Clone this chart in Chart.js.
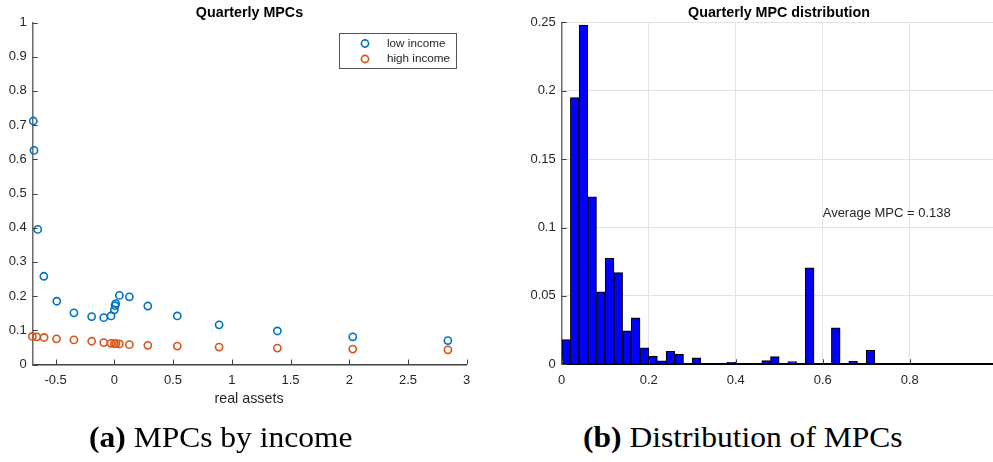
<!DOCTYPE html>
<html>
<head>
<meta charset="utf-8">
<title>Quarterly MPCs</title>
<script src="https://cdn.jsdelivr.net/npm/chart.js@4.4.1/dist/chart.umd.min.js"></script>
<style>
  html, body { margin: 0; padding: 0; background: #fff; width: 993px; height: 462px; overflow: hidden; position: relative; }
  canvas { position: absolute; top: 0; }
  #mpcChart { left: 0; }
  #histChart { left: 520px; }
  .lbl { position: absolute; font-family: "Liberation Sans", Arial, sans-serif; color: #262626; white-space: nowrap; line-height: 1; transform: translateX(-50%); }
  .ttl { font-weight: bold; font-size: 14.3px; color: #000; }
  .axl { font-size: 14.3px; }
  .cap { position: absolute; font-family: "Liberation Serif", "Times New Roman", serif; font-size: 29px; line-height: 1; white-space: nowrap; color: #000; transform-origin: left top; }
</style>
</head>
<body>
<canvas id="mpcChart" width="480" height="400"></canvas>
<canvas id="histChart" width="500" height="400"></canvas>

<div class="lbl ttl" style="left:249.5px; top:5px;">Quarterly MPCs</div>
<div class="lbl ttl" style="left:779px; top:5px;">Quarterly MPC distribution</div>
<div class="lbl axl" style="left:249px; top:391px;">real assets</div>

<div class="cap" id="capA" style="left:89px; top:423px;"><b>(a)</b> MPCs by income</div>
<div class="cap" id="capB" style="left:583px; top:423px;"><b>(b)</b> Distribution of MPCs</div>

<script>
// ---------- data: MPCs by real assets ----------
const LOW_ASSETS  = [-0.69, -0.684, -0.652, -0.60, -0.49, -0.344, -0.193, -0.09, -0.028, 0, 0.006, 0.012, 0.043, 0.128, 0.285, 0.536, 0.892, 1.388, 2.03, 2.84];
const LOW_MPC     = [0.712, 0.626, 0.395, 0.258, 0.185, 0.151, 0.140, 0.137, 0.142, 0.160, 0.172, 0.178, 0.202, 0.198, 0.171, 0.142, 0.116, 0.098, 0.081, 0.070];
const HIGH_ASSETS = [-0.698, -0.661, -0.598, -0.492, -0.344, -0.193, -0.09, -0.028, 0, 0.014, 0.043, 0.128, 0.285, 0.536, 0.892, 1.388, 2.03, 2.84];
const HIGH_MPC    = [0.082, 0.081, 0.079, 0.075, 0.072, 0.068, 0.064, 0.062, 0.061, 0.061, 0.060, 0.058, 0.056, 0.054, 0.051, 0.048, 0.045, 0.043];

const ASSET_TICKS = [-0.5, 0, 0.5, 1, 1.5, 2, 2.5, 3];
const ASSET_TICK_LABELS = ["-0.5", "0", "0.5", "1", "1.5", "2", "2.5", "3"];
const MPC_TICKS = [0, 0.1, 0.2, 0.3, 0.4, 0.5, 0.6, 0.7, 0.8, 0.9, 1];
const MPC_TICK_LABELS = ["0", "0.1", "0.2", "0.3", "0.4", "0.5", "0.6", "0.7", "0.8", "0.9", "1"];

// ---------- data: MPC distribution (bins of width 0.02) ----------
const BIN_CENTERS = [
  0.01, 0.03, 0.05, 0.07, 0.09, 0.11, 0.13, 0.15, 0.17, 0.19,
  0.21, 0.23, 0.25, 0.27, 0.29, 0.31, 0.33, 0.35, 0.37, 0.39,
  0.41, 0.43, 0.45, 0.47, 0.49, 0.51, 0.53, 0.55, 0.57, 0.59,
  0.61, 0.63, 0.65, 0.67, 0.69, 0.71, 0.73, 0.75, 0.77, 0.79,
  0.81, 0.83, 0.85, 0.87, 0.89, 0.91, 0.93, 0.95, 0.97, 0.99
];
const BIN_SHARE = [
  0.018, 0.195, 0.248, 0.1225, 0.053, 0.0775, 0.067, 0.0245, 0.034, 0.012,
  0.006, 0.0025, 0.0095, 0.0075, 0, 0.0047, 0, 0, 0, 0.0015,
  0, 0, 0, 0.0027, 0.0056, 0, 0.002, 0, 0.0705, 0,
  0, 0.0267, 0, 0.0022, 0, 0.0103, 0, 0, 0, 0,
  0, 0, 0, 0, 0, 0, 0, 0, 0, 0
];
const SHARE_TICKS = [0, 0.05, 0.1, 0.15, 0.2, 0.25];
const SHARE_TICK_LABELS = ["0", "0.05", "0.1", "0.15", "0.2", "0.25"];
const HIST_X_TICKS = [0, 0.2, 0.4, 0.6, 0.8, 1];
const HIST_X_TICK_LABELS = ["0", "0.2", "0.4", "0.6", "0.8", "1"];
const AVERAGE_MPC = 0.138;

// ---------- style ----------
const FONT = '"Liberation Sans", Arial, sans-serif';
const BLUE = "#0072bd";
const ORANGE = "#d95319";
const TXT = "#262626";
const MARK_R = 3.6;
const MARK_W = 1.6;

// ---------- helpers ----------
const setTicks = (values) => (scale) => { scale.ticks = values.map((v) => ({ value: v })); };
const tickFont = { family: FONT, size: 13 };

// MATLAB style ticks point into the plot
function innerTicks(xTicks, yTicks, color, len) {
  return {
    id: "innerTicks",
    afterDatasetsDraw(chart) {
      const { ctx, chartArea: a, scales: { x, y } } = chart;
      ctx.save();
      ctx.strokeStyle = color;
      ctx.lineWidth = 1;
      ctx.beginPath();
      xTicks.forEach((v) => {
        const px = Math.round(x.getPixelForValue(v)) + 0.5;
        ctx.moveTo(px, a.bottom);
        ctx.lineTo(px, a.bottom - len);
      });
      yTicks.forEach((v) => {
        const py = Math.round(y.getPixelForValue(v)) + 0.5;
        ctx.moveTo(a.left, py);
        ctx.lineTo(a.left + len, py);
      });
      ctx.stroke();
      ctx.restore();
    },
  };
}

const incomeLegend = {
  id: "incomeLegend",
  afterDraw(chart) {
    const { ctx } = chart;
    ctx.save();
    ctx.fillStyle = "#fff";
    ctx.fillRect(339.5, 33.5, 117, 35);
    ctx.strokeStyle = "#555";
    ctx.lineWidth = 1;
    ctx.strokeRect(339.5, 33.5, 117, 35);
    const rows = [
      { label: chart.data.datasets[0].label, color: BLUE, y: 43.5 },
      { label: chart.data.datasets[1].label, color: ORANGE, y: 59 },
    ];
    ctx.font = "11.7px " + FONT;
    ctx.textBaseline = "middle";
    ctx.textAlign = "left";
    rows.forEach((r) => {
      ctx.beginPath();
      ctx.arc(365, r.y, MARK_R, 0, Math.PI * 2);
      ctx.strokeStyle = r.color;
      ctx.lineWidth = MARK_W;
      ctx.stroke();
      ctx.fillStyle = TXT;
      ctx.fillText(r.label, 387, r.y);
    });
    ctx.restore();
  },
};

const averageNote = {
  id: "averageNote",
  afterDraw(chart) {
    const { ctx, scales: { x, y } } = chart;
    ctx.save();
    ctx.font = "13px " + FONT;
    ctx.fillStyle = TXT;
    ctx.textBaseline = "middle";
    ctx.textAlign = "left";
    ctx.fillText("Average MPC = " + AVERAGE_MPC.toFixed(3), x.getPixelForValue(0.6), y.getPixelForValue(0.11));
    ctx.restore();
  },
};

// ---------- left: MPCs by income ----------
function drawMpcChart() {
  const points = (xs, ys) => xs.map((v, i) => ({ x: v, y: ys[i] }));
  const marker = { pointStyle: "circle", pointRadius: MARK_R, pointBorderWidth: MARK_W, backgroundColor: "rgba(0,0,0,0)", clip: false };

  new Chart(document.getElementById("mpcChart"), {
    type: "scatter",
    data: {
      datasets: [
        { label: "low income", data: points(LOW_ASSETS, LOW_MPC), borderColor: BLUE, ...marker },
        { label: "high income", data: points(HIGH_ASSETS, HIGH_MPC), borderColor: ORANGE, ...marker },
      ],
    },
    options: {
      responsive: false,
      animation: false,
      events: [],
      layout: { padding: { left: 0, top: 22.5, right: 13.3, bottom: 0 } },
      plugins: { legend: { display: false }, tooltip: { enabled: false } },
      scales: {
        x: {
          type: "linear", min: -0.695, max: 3,
          afterBuildTicks: setTicks(ASSET_TICKS),
          afterFit: (s) => { s.height = 35.5; },
          grid: { display: false, drawTicks: false },
          border: { display: true, color: "#404040", width: 1.5 },
          ticks: { padding: 8, color: TXT, font: tickFont, autoSkip: false, maxRotation: 0,
                   callback: (v, i) => ASSET_TICK_LABELS[i] },
        },
        y: {
          type: "linear", min: 0, max: 1,
          afterBuildTicks: setTicks(MPC_TICKS),
          afterFit: (s) => { s.width = 32.7; },
          grid: { display: false, drawTicks: false },
          border: { display: true, color: "#6a6a6a", width: 1.5 },
          ticks: { padding: 6, color: TXT, font: tickFont, autoSkip: false,
                   callback: (v, i) => MPC_TICK_LABELS[i] },
        },
      },
    },
    plugins: [innerTicks(ASSET_TICKS, MPC_TICKS, "#404040", 5), incomeLegend],
  });
}

// ---------- right: MPC distribution ----------
function drawHistChart() {
  new Chart(document.getElementById("histChart"), {
    type: "bar",
    data: {
      datasets: [{
        label: "share",
        data: BIN_CENTERS.map((c, i) => ({ x: c, y: BIN_SHARE[i] })),
        backgroundColor: "#0000ff",
        borderColor: "#000",
        borderWidth: 1.2,
        borderSkipped: false,
        barPercentage: 1,
        categoryPercentage: 1,
      }],
    },
    options: {
      responsive: false,
      animation: false,
      events: [],
      layout: { padding: { left: 0, top: 22.3, right: 23.3, bottom: 0 } },
      plugins: { legend: { display: false }, tooltip: { enabled: false } },
      scales: {
        x: {
          type: "linear", min: 0, max: 1, offset: false,
          afterBuildTicks: setTicks(HIST_X_TICKS),
          afterFit: (s) => { s.height = 35.7; },
          grid: { color: "#e3e3e3", lineWidth: 1, drawTicks: false, offset: false },
          border: { display: true, color: "#000", width: 2 },
          ticks: { padding: 8, color: TXT, font: tickFont, autoSkip: false, maxRotation: 0,
                   callback: (v, i) => HIST_X_TICK_LABELS[i] },
        },
        y: {
          type: "linear", min: 0, max: 0.25,
          afterBuildTicks: setTicks(SHARE_TICKS),
          afterFit: (s) => { s.width = 41.7; },
          grid: { color: "#e3e3e3", lineWidth: 1, drawTicks: false },
          border: { display: true, color: "#6a6a6a", width: 1.5 },
          ticks: { padding: 6, color: TXT, font: tickFont, autoSkip: false,
                   callback: (v, i) => SHARE_TICK_LABELS[i] },
        },
      },
    },
    plugins: [innerTicks(HIST_X_TICKS, SHARE_TICKS, "#404040", 5), averageNote],
  });
}

// ---------- captions: stretch serif text to the LaTeX caption width ----------
function fitCaptions() {
  const a = document.getElementById("capA");
  const b = document.getElementById("capB");
  const k = 263 / a.offsetWidth;
  a.style.transform = "scaleX(" + k + ")";
  b.style.transform = "scaleX(" + k + ")";
}

drawMpcChart();
drawHistChart();
fitCaptions();
</script>
</body>
</html>
